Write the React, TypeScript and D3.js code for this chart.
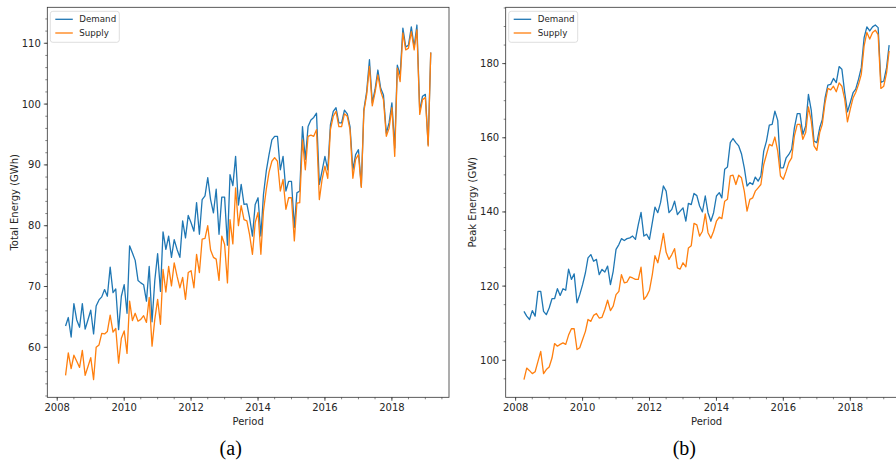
import * as d3 from "d3";
import { useEffect, useRef } from "react";

// monthly periods, Apr 2008 .. Mar 2019
const periods = d3.timeMonth.range(new Date(2008, 3, 1), new Date(2019, 3, 1));

// (a) total energy, GWh
const demandEnergy = [
  63.5, 64.9, 61.7, 67.2, 64.5, 63.3, 67.2, 63.0, 64.5, 66.1, 62.2, 66.8,
  67.8, 68.3, 69.5, 68.4, 73.2, 69.0, 69.6, 62.9, 68.4, 70.3, 65.6, 76.7,
  75.5, 74.3, 71.0, 70.6, 70.3, 67.6, 73.3, 64.2, 71.0, 75.4, 69.2, 79.0,
  76.1, 78.3, 74.8, 77.7, 76.1, 74.8, 80.8, 78.0, 81.7, 80.5, 79.1, 83.8,
  78.6, 84.3, 84.9, 87.9, 84.3, 82.1, 86.0, 78.6, 84.7, 84.7, 76.8, 88.4,
  86.6, 91.4, 83.4, 86.8, 83.5, 83.6, 81.3, 78.3, 83.5, 84.6, 78.3, 85.1,
  89.0, 91.7, 94.1, 94.7, 94.7, 89.2, 91.4, 85.7, 87.3, 87.3, 79.7, 85.4,
  85.7, 96.3, 90.9, 96.3, 97.4, 97.8, 98.5, 86.8, 89.0, 91.4, 89.2, 96.6,
  98.8, 99.4, 96.9, 96.9, 99.0, 98.4, 96.3, 89.2, 91.7, 92.5, 86.5, 99.1,
  102.1, 107.3, 100.2, 102.4, 105.6, 102.6, 101.5, 95.2, 96.9, 100.2, 92.8, 106.4,
  104.8, 112.5, 109.4, 109.7, 112.7, 109.4, 113.0, 98.8, 101.3, 101.6, 93.3, 108.5,
];
const supplyEnergy = [
  55.4, 59.1, 56.5, 58.7, 57.7, 56.7, 59.5, 55.4, 56.8, 58.3, 54.7, 60.0,
  60.4, 62.3, 62.2, 62.6, 65.3, 62.5, 63.1, 57.4, 61.5, 62.7, 59.0, 67.6,
  64.4, 65.6, 64.3, 64.6, 65.2, 64.1, 68.2, 60.2, 64.6, 67.9, 63.8, 72.8,
  69.1, 73.3, 70.1, 73.9, 71.7, 69.8, 71.5, 67.9, 72.3, 72.6, 69.8, 75.3,
  72.3, 77.8, 77.9, 80.0, 76.0, 74.8, 74.5, 71.0, 78.3, 76.9, 70.6, 81.0,
  77.0, 86.2, 80.0, 83.3, 81.0, 80.8, 78.5, 75.3, 80.5, 82.2, 75.3, 82.4,
  86.0, 88.8, 90.6, 91.2, 90.6, 85.7, 87.6, 82.7, 84.6, 84.6, 77.5, 83.7,
  83.8, 94.1, 89.2, 94.7, 94.9, 94.7, 95.8, 84.3, 87.6, 89.8, 87.8, 95.8,
  98.0, 98.8, 96.3, 96.3, 98.4, 98.0, 95.8, 87.8, 90.9, 91.7, 86.3, 98.8,
  101.6, 106.2, 99.7, 101.9, 104.8, 102.1, 100.7, 94.7, 96.0, 99.4, 91.4, 105.9,
  103.7, 111.7, 108.9, 109.2, 111.9, 108.9, 112.2, 98.3, 100.7, 101.1, 93.1, 108.5,
];

// (b) peak energy, GW
const demandPeak = [
  113.2, 111.9, 111.0, 113.4, 111.9, 118.6, 118.6, 113.2, 112.3, 114.1, 116.6, 116.6,
  119.3, 117.5, 119.3, 118.9, 124.6, 121.8, 123.3, 115.5, 117.7, 120.4, 123.6, 127.6,
  128.5, 126.7, 127.2, 123.1, 124.5, 123.8, 125.4, 120.4, 124.0, 129.9, 131.2, 132.8,
  132.3, 132.8, 133.0, 133.5, 132.6, 136.6, 139.9, 133.5, 134.0, 132.6, 137.1, 141.3,
  139.8, 142.5, 147.0, 145.6, 139.8, 140.7, 142.9, 139.3, 140.2, 141.1, 137.5, 142.3,
  142.0, 145.0, 144.4, 141.6, 140.0, 144.3, 139.8, 137.5, 139.8, 144.3, 145.2, 143.8,
  151.5, 152.1, 158.7, 159.8, 158.7, 157.8, 155.7, 151.9, 147.0, 147.9, 147.4, 149.4,
  148.3, 149.7, 156.4, 159.1, 163.4, 163.6, 167.2, 164.7, 151.9, 151.9, 154.6, 155.5,
  156.9, 162.7, 166.5, 166.5, 160.9, 163.2, 171.7, 167.4, 159.1, 158.7, 162.7, 164.9,
  170.8, 174.2, 174.4, 176.0, 174.9, 179.2, 178.5, 172.2, 167.0, 169.5, 172.2, 173.1,
  175.8, 178.9, 187.0, 189.9, 188.8, 189.9, 190.4, 189.7, 174.9, 175.3, 178.9, 185.0,
];
const supplyPeak = [
  94.8, 97.9, 97.2, 96.4, 96.9, 99.7, 102.4, 96.4, 97.5, 98.2, 100.6, 104.5,
  103.8, 104.3, 104.7, 104.3, 106.8, 108.5, 108.5, 102.9, 103.4, 105.6, 107.8, 111.0,
  110.5, 112.1, 112.6, 111.4, 111.6, 113.7, 116.2, 113.4, 114.6, 117.7, 118.6, 123.1,
  120.9, 121.1, 122.5, 122.2, 121.8, 121.8, 125.1, 116.4, 117.3, 118.9, 123.1, 128.2,
  126.3, 129.9, 134.2, 129.1, 127.2, 128.5, 130.1, 124.9, 124.6, 126.3, 125.2, 130.3,
  130.9, 136.9, 136.5, 133.5, 134.8, 139.5, 134.4, 132.9, 134.8, 137.5, 138.6, 138.2,
  142.9, 143.4, 149.7, 149.9, 147.4, 149.9, 149.2, 145.6, 140.2, 143.4, 143.8, 145.6,
  146.5, 147.4, 152.8, 155.5, 158.2, 157.8, 160.2, 156.4, 149.7, 148.8, 151.0, 153.3,
  154.6, 160.5, 163.6, 163.6, 159.6, 161.4, 168.3, 164.5, 157.8, 156.6, 161.4, 163.6,
  169.5, 173.3, 172.9, 173.9, 172.4, 174.8, 173.9, 170.4, 164.3, 167.7, 170.8, 172.2,
  174.4, 177.1, 184.8, 188.4, 186.6, 188.4, 189.0, 187.8, 173.3, 173.9, 177.5, 183.4,
];

const seriesNames = ["Demand", "Supply"];
const energyTicks = [60, 70, 80, 90, 100, 110];
const peakTicks = [100, 120, 140, 160, 180];
const yearTicks = [2008, 2010, 2012, 2014, 2016, 2018];

const BLUE = "#1f77b4";
const ORANGE = "#ff7f0e";
const INK = "#262626";
const FONT = "DejaVu Sans";

function drawPanel(svg, { left, width, top, height, demand, supply, ticks, minorStep, ylabel, ylabelX, caption, captionX }) {
  const g = svg.append("g");

  // matplotlib style 5% autoscale margins
  const t0 = +periods[0];
  const t1 = +periods[periods.length - 1];
  const tp = (t1 - t0) * 0.05;
  const x = d3.scaleTime().domain([new Date(t0 - tp), new Date(t1 + tp)]).range([left, left + width]);

  const lo = d3.min([...demand, ...supply]);
  const hi = d3.max([...demand, ...supply]);
  const vp = (hi - lo) * 0.05;
  const y = d3.scaleLinear().domain([lo - vp, hi + vp]).range([top + height, top]);

  const bottom = top + height;

  const line = d3.line().x((d, i) => x(periods[i])).y((d) => y(d));

  g.append("path").datum(demand).attr("d", line).attr("fill", "none")
    .attr("stroke", BLUE).attr("stroke-width", 1.3).attr("stroke-linejoin", "round");
  g.append("path").datum(supply).attr("d", line).attr("fill", "none")
    .attr("stroke", ORANGE).attr("stroke-width", 1.3).attr("stroke-linejoin", "round");

  // spines
  g.append("rect").attr("x", left).attr("y", top).attr("width", width).attr("height", height)
    .attr("fill", "none").attr("stroke", "#333").attr("stroke-width", 0.8);

  // x ticks
  const minorX = d3.timeMonth.every(6).range(x.domain()[0], x.domain()[1]);
  g.selectAll(".xminor").data(minorX).join("line")
    .attr("x1", (d) => x(d)).attr("x2", (d) => x(d))
    .attr("y1", bottom).attr("y2", bottom + 2)
    .attr("stroke", "#333").attr("stroke-width", 0.6);
  const xt = g.selectAll(".xtick").data(yearTicks).join("g")
    .attr("transform", (d) => `translate(${x(new Date(d, 0, 1))},${bottom})`);
  xt.append("line").attr("y2", 3.5).attr("stroke", "#333").attr("stroke-width", 0.8);
  xt.append("text").attr("y", 13.5).attr("text-anchor", "middle")
    .attr("font-family", FONT).attr("font-size", 10).attr("fill", INK).text((d) => d);

  // y ticks
  const [d0, d1] = y.domain();
  const minorY = d3.range(Math.ceil(d0 / minorStep) * minorStep, d1, minorStep);
  g.selectAll(".yminor").data(minorY).join("line")
    .attr("x1", left - 2).attr("x2", left)
    .attr("y1", (d) => y(d)).attr("y2", (d) => y(d))
    .attr("stroke", "#333").attr("stroke-width", 0.6);
  const yt = g.selectAll(".ytick").data(ticks).join("g")
    .attr("transform", (d) => `translate(${left},${y(d)})`);
  yt.append("line").attr("x1", -3.5).attr("stroke", "#333").attr("stroke-width", 0.8);
  yt.append("text").attr("x", -6.5).attr("dy", "0.35em").attr("text-anchor", "end")
    .attr("font-family", FONT).attr("font-size", 10).attr("fill", INK).text((d) => d);

  // axis labels
  g.append("text").attr("x", left + width > 896 ? left + (449 - 47.3) / 2 : left + width / 2)
    .attr("y", 425).attr("text-anchor", "middle")
    .attr("font-family", FONT).attr("font-size", 10).attr("fill", INK).text("Period");
  g.append("text").attr("transform", `translate(${ylabelX},${top + height / 2}) rotate(-90)`)
    .attr("dy", "0.35em").attr("text-anchor", "middle")
    .attr("font-family", FONT).attr("font-size", 10).attr("fill", INK).text(ylabel);

  // legend
  const lg = g.append("g").attr("transform", `translate(${left + 3},${top + 4})`);
  lg.append("rect").attr("width", 69).attr("height", 31).attr("rx", 2.5)
    .attr("fill", "white").attr("fill-opacity", 0.8)
    .attr("stroke", "#d6d6d6").attr("stroke-width", 0.8);
  const items = lg.selectAll(".item").data(seriesNames).join("g")
    .attr("transform", (d, i) => `translate(0,${8 + i * 13.7})`);
  items.append("line").attr("x1", 5).attr("x2", 22.5)
    .attr("stroke", (d, i) => (i === 0 ? BLUE : ORANGE)).attr("stroke-width", 1.3);
  items.append("text").attr("x", 29).attr("dy", "0.35em")
    .attr("font-family", FONT).attr("font-size", 8.7).attr("fill", INK).text((d) => d);

  // caption
  svg.append("text").attr("x", captionX).attr("y", 454.5).attr("text-anchor", "middle")
    .attr("font-family", "Liberation Serif").attr("font-size", 20).attr("fill", "#000").text(caption);
}

export default function App() {
  const svgRef = useRef(null);

  useEffect(() => {
    const svg = d3.select(svgRef.current);
    svg.selectAll("*").remove();

    drawPanel(svg, {
      left: 47.3, width: 401.7, top: 7.3, height: 390,
      demand: demandEnergy, supply: supplyEnergy,
      ticks: energyTicks, minorStep: 2,
      ylabel: "Total Energy (GWh)", ylabelX: 14,
      caption: "(a)", captionX: 230.7,
    });
    drawPanel(svg, {
      left: 505.7, width: 401.7, top: 7.3, height: 390,
      demand: demandPeak, supply: supplyPeak,
      ticks: peakTicks, minorStep: 5,
      ylabel: "Peak Energy (GW)", ylabelX: 472,
      caption: "(b)", captionX: 684.3,
    });
  }, []);

  return (
    <svg
      ref={svgRef}
      width={896}
      height={463}
      style={{ position: "absolute", left: 0, top: 0, background: "white", display: "block" }}
    />
  );
}
